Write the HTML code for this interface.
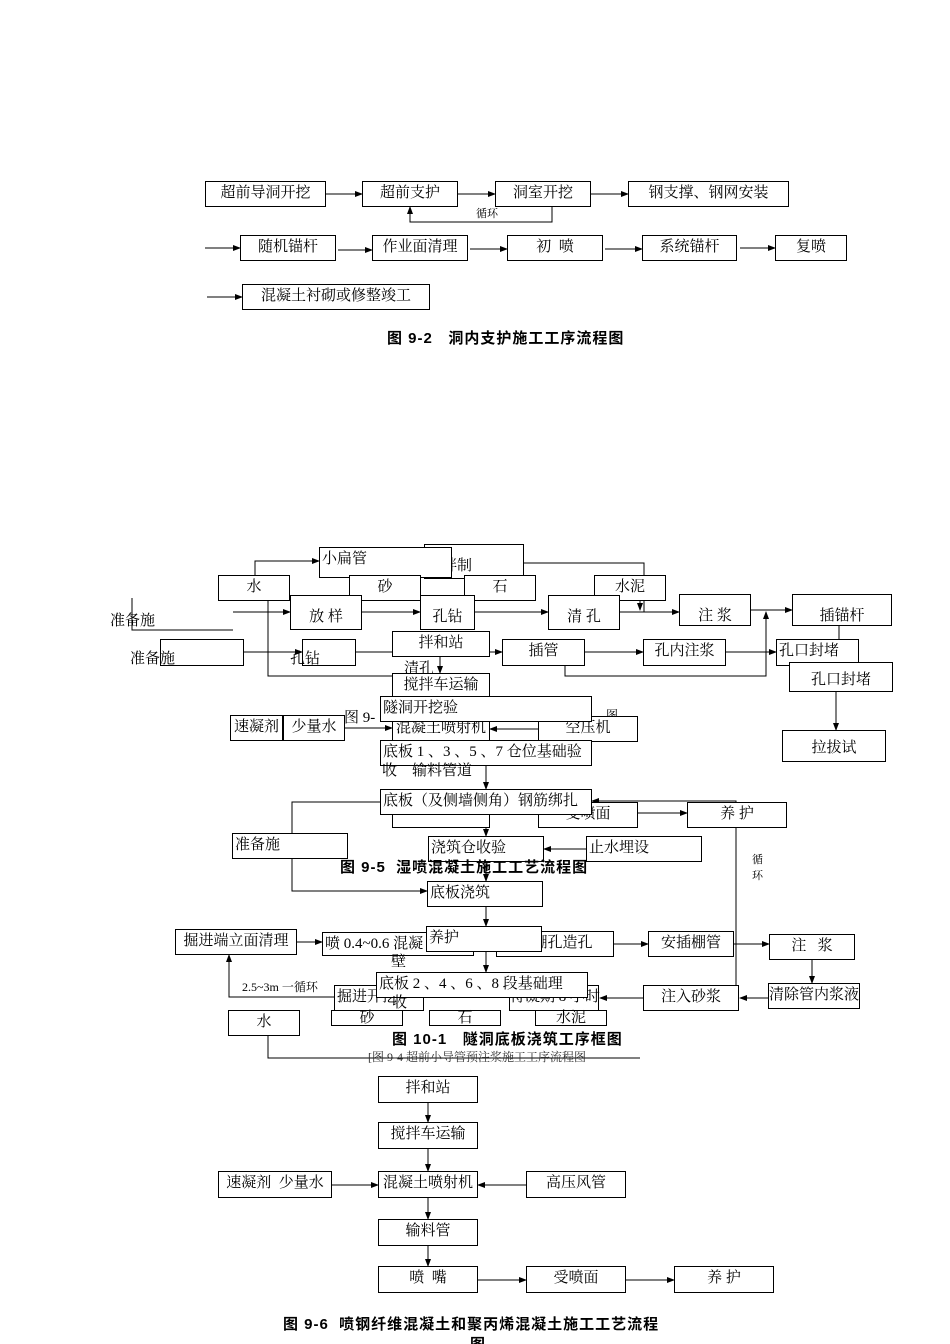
<!DOCTYPE html>
<html><head><meta charset="utf-8"><style>
body{margin:0;background:#fff;}
#c{position:relative;width:950px;height:1344px;overflow:hidden;font-family:"Liberation Serif","Noto Serif CJK SC",serif;font-size:15px;color:#000;}
.b{position:absolute;border:1px solid #000;background:#fff;box-sizing:border-box;text-align:center;line-height:22px;white-space:nowrap;overflow:visible;}
.l{text-align:left;padding-left:2px;}
.t{position:absolute;white-space:nowrap;line-height:18px;}
.cap{position:absolute;white-space:nowrap;font-family:"Liberation Sans","Noto Sans CJK SC",sans-serif;font-size:15px;letter-spacing:1px;font-weight:bold;}
svg{position:absolute;left:0;top:0;}
</style></head><body><div id="c">
<svg width="950" height="1344">
<defs><marker id="a" markerWidth="8" markerHeight="8" refX="7" refY="4" orient="auto"><path d="M0,1 L8,4 L0,7z" fill="#000"/></marker></defs>
<g stroke="#000" stroke-width="1" fill="none">
<line x1="326" y1="194" x2="362" y2="194" marker-end="url(#a)"/>
<line x1="458" y1="194" x2="495" y2="194" marker-end="url(#a)"/>
<line x1="591" y1="194" x2="628" y2="194" marker-end="url(#a)"/>
<polyline points="552,207 552,222 410,222 410,207" marker-end="url(#a)"/>
<line x1="205" y1="248" x2="240" y2="248" marker-end="url(#a)"/>
<line x1="338" y1="250" x2="372" y2="250" marker-end="url(#a)"/>
<line x1="470" y1="249" x2="507" y2="249" marker-end="url(#a)"/>
<line x1="605" y1="249" x2="642" y2="249" marker-end="url(#a)"/>
<line x1="740" y1="248" x2="775" y2="248" marker-end="url(#a)"/>
<line x1="207" y1="297" x2="242" y2="297" marker-end="url(#a)"/>
<polyline points="132,598 132,630 233,630"/>
<polyline points="233,612 290,612" marker-end="url(#a)"/>
<polyline points="362,612 420,612" marker-end="url(#a)"/>
<polyline points="475,612 548,612" marker-end="url(#a)"/>
<polyline points="620,612 679,612" marker-end="url(#a)"/>
<polyline points="751,610 792,610" marker-end="url(#a)"/>
<polyline points="255,575 255,561 319,561" marker-end="url(#a)"/>
<polyline points="524,563 644,563 644,612"/>
<polyline points="640,601 640,610" marker-end="url(#a)"/>
<polyline points="244,652 302,652" marker-end="url(#a)"/>
<polyline points="356,652 392,652"/>
<polyline points="490,652 502,652" marker-end="url(#a)"/>
<polyline points="585,652 643,652" marker-end="url(#a)"/>
<polyline points="726,652 776,652" marker-end="url(#a)"/>
<polyline points="268,601 268,676 420,676" marker-end="url(#a)"/>
<polyline points="565,666 565,676 766,676 766,612" marker-end="url(#a)"/>
<polyline points="836,692 836,730" marker-end="url(#a)"/>
<polyline points="839,626 839,639"/>
<line x1="440" y1="657" x2="440" y2="673" marker-end="url(#a)"/>
<line x1="345" y1="728" x2="392" y2="728" marker-end="url(#a)"/>
<line x1="538" y1="729" x2="490" y2="729" marker-end="url(#a)"/>
<polyline points="292,833 292,802 380,802"/>
<polyline points="292,859 292,891 427,891" marker-end="url(#a)"/>
<line x1="486" y1="766" x2="486" y2="789" marker-end="url(#a)"/>
<line x1="486" y1="815" x2="486" y2="836" marker-end="url(#a)"/>
<line x1="486" y1="862" x2="486" y2="881" marker-end="url(#a)"/>
<line x1="486" y1="907" x2="486" y2="926" marker-end="url(#a)"/>
<line x1="486" y1="952" x2="486" y2="972" marker-end="url(#a)"/>
<line x1="586" y1="849" x2="544" y2="849" marker-end="url(#a)"/>
<line x1="638" y1="813" x2="687" y2="813" marker-end="url(#a)"/>
<polyline points="736,998 736,801 592,801" marker-end="url(#a)"/>
<line x1="297" y1="942" x2="322" y2="942" marker-end="url(#a)"/>
<line x1="614" y1="944" x2="648" y2="944" marker-end="url(#a)"/>
<line x1="734" y1="944" x2="769" y2="944" marker-end="url(#a)"/>
<line x1="812" y1="960" x2="812" y2="983" marker-end="url(#a)"/>
<line x1="768" y1="998" x2="740" y2="998" marker-end="url(#a)"/>
<line x1="643" y1="998" x2="600" y2="998" marker-end="url(#a)"/>
<polyline points="334,997 229,997 229,955" marker-end="url(#a)"/>
<polyline points="268,1036 268,1058 640,1058"/>
<line x1="428" y1="1103" x2="428" y2="1122" marker-end="url(#a)"/>
<line x1="428" y1="1149" x2="428" y2="1171" marker-end="url(#a)"/>
<line x1="428" y1="1198" x2="428" y2="1219" marker-end="url(#a)"/>
<line x1="428" y1="1246" x2="428" y2="1266" marker-end="url(#a)"/>
<line x1="332" y1="1185" x2="378" y2="1185" marker-end="url(#a)"/>
<line x1="526" y1="1185" x2="478" y2="1185" marker-end="url(#a)"/>
<line x1="478" y1="1280" x2="526" y2="1280" marker-end="url(#a)"/>
<line x1="626" y1="1280" x2="674" y2="1280" marker-end="url(#a)"/>
</g></svg>

<div class="b" style="left:205px;top:181px;width:121px;height:26px">超前导洞开挖</div>
<div class="b" style="left:362px;top:181px;width:96px;height:26px">超前支护</div>
<div class="b" style="left:495px;top:181px;width:96px;height:26px">洞室开挖</div>
<div class="b" style="left:628px;top:181px;width:161px;height:26px">钢支撑、钢网安装</div>
<div class="t" style="left:476px;top:205px;font-size:11px">循环</div>
<div class="b" style="left:240px;top:235px;width:96px;height:26px">随机锚杆</div>
<div class="b" style="left:372px;top:235px;width:96px;height:26px">作业面清理</div>
<div class="b" style="left:507px;top:235px;width:96px;height:26px">初 &nbsp;喷</div>
<div class="b" style="left:642px;top:235px;width:95px;height:26px">系统锚杆</div>
<div class="b" style="left:775px;top:235px;width:72px;height:26px">复喷</div>
<div class="b" style="left:242px;top:284px;width:188px;height:26px">混凝土衬砌或修整竣工</div>
<div class="cap" style="left:387px;top:327px">图 9-2 &nbsp;&nbsp;洞内支护施工工序流程图</div>

<div class="b l" style="left:424px;top:544px;width:100px;height:35px;padding-top:10px">浆拌制</div>
<div class="b l" style="left:319px;top:547px;width:133px;height:31px">小扁管</div>
<div class="b" style="left:218px;top:575px;width:72px;height:26px">水</div>
<div class="b" style="left:349px;top:575px;width:72px;height:26px">砂</div>
<div class="b" style="left:464px;top:575px;width:72px;height:26px">石</div>
<div class="b" style="left:594px;top:575px;width:72px;height:26px">水泥</div>
<div class="t" style="left:110px;top:612px">准备施</div>
<div class="b" style="left:290px;top:595px;width:72px;height:35px;padding-top:10px">放 样</div>
<div class="b" style="left:420px;top:595px;width:55px;height:35px;padding-top:10px">孔钻</div>
<div class="b" style="left:548px;top:595px;width:72px;height:35px;padding-top:10px">清 孔</div>
<div class="b" style="left:679px;top:594px;width:72px;height:32px;padding-top:10px">注 浆</div>
<div class="b" style="left:792px;top:594px;width:100px;height:32px;padding-top:10px">插锚杆</div>
<div class="b" style="left:160px;top:639px;width:84px;height:27px"></div>
<div class="t" style="left:130px;top:650px">准备施</div>
<div class="b" style="left:302px;top:639px;width:54px;height:27px"></div>
<div class="t" style="left:290px;top:650px">孔钻</div>
<div class="b" style="left:502px;top:639px;width:83px;height:27px">插管</div>
<div class="b" style="left:643px;top:639px;width:83px;height:27px">孔内注浆</div>
<div class="b l" style="left:776px;top:639px;width:83px;height:27px">孔口封堵</div>
<div class="b" style="left:789px;top:662px;width:104px;height:30px;padding-top:6px">孔口封堵</div>
<div class="b" style="left:392px;top:631px;width:98px;height:26px">拌和站</div>
<div class="t" style="left:404px;top:660px">清孔</div>
<div class="b" style="left:392px;top:673px;width:98px;height:26px">搅拌车运输</div>
<div class="t" style="left:344px;top:709px">图 9-</div>
<div class="t" style="left:606px;top:706px;font-size:12px">图</div>
<div class="b" style="left:230px;top:715px;width:53px;height:26px">速凝剂</div>
<div class="b" style="left:283px;top:715px;width:62px;height:26px">少量水</div>
<div class="b" style="left:392px;top:716px;width:98px;height:26px">混凝土喷射机</div>
<div class="b" style="left:538px;top:716px;width:100px;height:26px">空压机</div>
<div class="b l" style="left:380px;top:696px;width:212px;height:26px">隧洞开挖验</div>
<div class="b l" style="left:380px;top:740px;width:212px;height:26px">底板 1 、3 、5 、7 仓位基础验</div>
<div class="t" style="left:382px;top:762px">收 &nbsp;&nbsp;&nbsp;输料管道</div>
<div class="b" style="left:782px;top:730px;width:104px;height:32px;padding-top:6px">拉拔试</div>
<div class="b" style="left:392px;top:802px;width:98px;height:26px"></div>
<div class="b" style="left:538px;top:802px;width:100px;height:26px">受喷面</div>
<div class="b" style="left:687px;top:802px;width:100px;height:26px">养 护</div>
<div class="b l" style="left:380px;top:789px;width:212px;height:26px">底板（及侧墙侧角）钢筋绑扎</div>
<div class="b l" style="left:232px;top:833px;width:116px;height:26px">准备施</div>
<div class="b l" style="left:428px;top:836px;width:116px;height:26px">浇筑仓收验</div>
<div class="b l" style="left:586px;top:836px;width:116px;height:26px">止水埋设</div>
<div class="cap" style="left:340px;top:856px">图 9-5 &nbsp;湿喷混凝土施工工艺流程图</div>
<div class="t" style="left:752px;top:852px;font-size:11px;line-height:16px">循<br>环</div>
<div class="b l" style="left:427px;top:881px;width:116px;height:26px">底板浇筑</div>
<div class="b" style="left:175px;top:929px;width:122px;height:26px">掘进端立面清理</div>
<div class="b l" style="left:322px;top:932px;width:152px;height:24px">喷 0.4~0.6 混凝</div>
<div class="b" style="left:496px;top:931px;width:118px;height:26px">管棚孔造孔</div>
<div class="b l" style="left:426px;top:926px;width:116px;height:26px">养护</div>
<div class="t" style="left:391px;top:953px">壁</div>
<div class="b" style="left:648px;top:931px;width:86px;height:26px">安插棚管</div>
<div class="b" style="left:769px;top:934px;width:86px;height:26px">注 &nbsp;&nbsp;浆</div>
<div class="t" style="left:242px;top:978px;font-size:12px">2.5~3m 一循环</div>
<div class="b l" style="left:334px;top:985px;width:90px;height:26px">掘进开挖</div>
<div class="b" style="left:509px;top:985px;width:90px;height:26px">待凝期 8 小时</div>
<div class="b" style="left:643px;top:985px;width:96px;height:26px">注入砂浆</div>
<div class="b" style="left:768px;top:983px;width:92px;height:26px">清除管内浆液</div>
<div class="b l" style="left:376px;top:972px;width:212px;height:26px">底板 2 、4 、6 、8 段基础理</div>
<div class="t" style="left:392px;top:994px">收</div>
<div class="b" style="left:228px;top:1010px;width:72px;height:26px">水</div>
<div class="b" style="left:331px;top:1010px;width:72px;height:16px;line-height:14px">砂</div>
<div class="b" style="left:429px;top:1010px;width:72px;height:16px;line-height:14px">石</div>
<div class="b" style="left:535px;top:1010px;width:72px;height:16px;line-height:14px">水泥</div>
<div class="cap" style="left:388px;top:1028px;background:#fff;padding:0 4px">图 10-1 &nbsp;&nbsp;隧洞底板浇筑工序框图</div>
<div class="t" style="left:368px;top:1048px;font-size:12px;color:#333">[图 9-4 超前小导管预注浆施工工序流程图</div>

<div class="b" style="left:378px;top:1076px;width:100px;height:27px">拌和站</div>
<div class="b" style="left:378px;top:1122px;width:100px;height:27px">搅拌车运输</div>
<div class="b" style="left:218px;top:1171px;width:114px;height:27px">速凝剂 &nbsp;少量水</div>
<div class="b" style="left:378px;top:1171px;width:100px;height:27px">混凝土喷射机</div>
<div class="b" style="left:526px;top:1171px;width:100px;height:27px">高压风管</div>
<div class="b" style="left:378px;top:1219px;width:100px;height:27px">输料管</div>
<div class="b" style="left:378px;top:1266px;width:100px;height:27px">喷 &nbsp;嘴</div>
<div class="b" style="left:526px;top:1266px;width:100px;height:27px">受喷面</div>
<div class="b" style="left:674px;top:1266px;width:100px;height:27px">养 护</div>
<div class="cap" style="left:283px;top:1313px">图 9-6 &nbsp;喷钢纤维混凝土和聚丙烯混凝土施工工艺流程</div>
<div class="cap" style="left:470px;top:1333px">图</div>
</div></body></html>
